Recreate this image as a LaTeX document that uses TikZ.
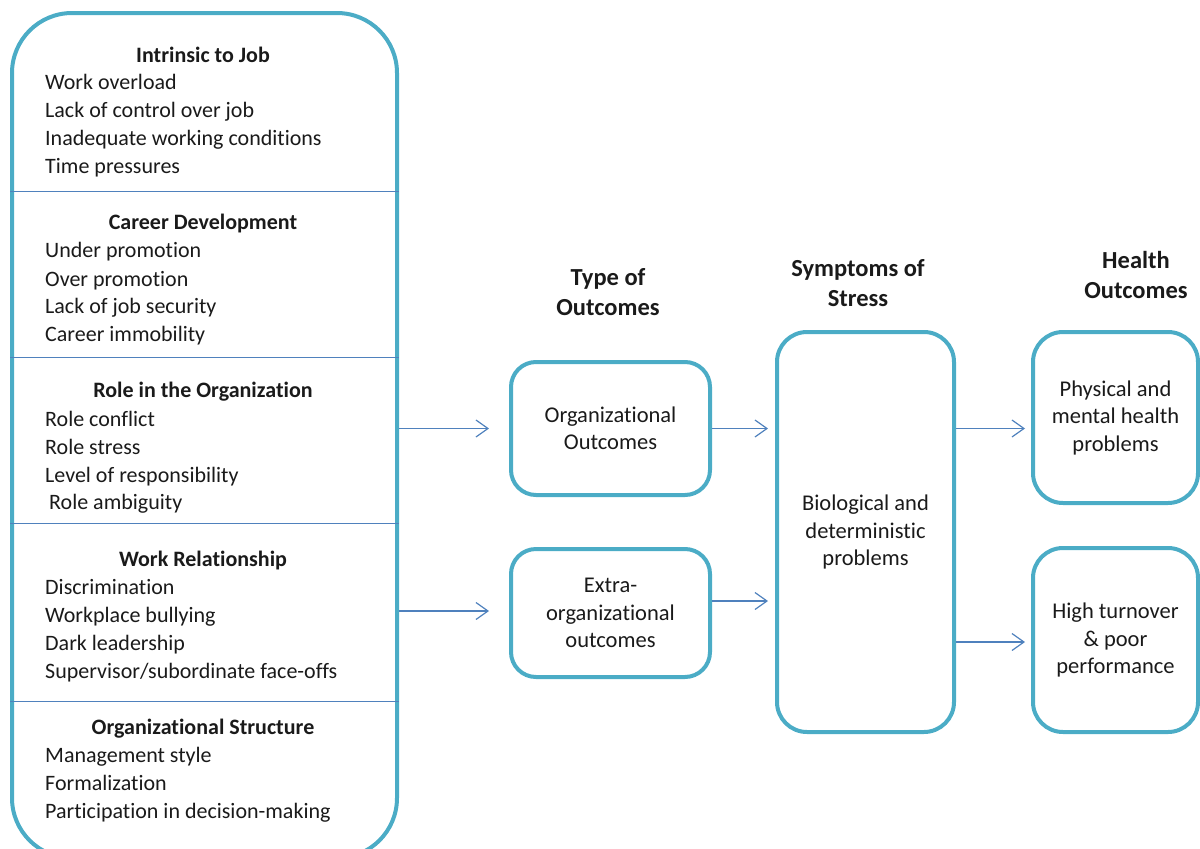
\documentclass[tikz,border=0pt]{standalone}
\usepackage{fontspec}
\setmainfont{Carlito}[Ligatures=NoCommon]
\usetikzlibrary{arrows.meta,calc}
\definecolor{boxline}{HTML}{4BACC6}
\definecolor{arrline}{HTML}{4F81BD}
\definecolor{ink}{HTML}{1A1A1A}
\begin{document}
\begin{tikzpicture}[x=1pt,y=-1pt,
  panel/.style={draw=boxline,line width=4pt,rounded corners=60pt,inner sep=0pt},
  outbox/.style={draw=boxline,line width=4pt,rounded corners=#1,align=center,
    inner sep=0pt,text=ink,font=\fontsize{22.5}{27.5}\selectfont},
  outbox/.default=25pt,
  divider/.style={draw=arrline,line width=1pt},
  head/.style={inner sep=0pt,text height=17pt,text depth=2pt,text=ink,
    font=\fontsize{22}{26}\selectfont\bfseries},
  item/.style={anchor=west,inner sep=0pt,text height=17pt,text depth=3pt,text=ink,
    font=\fontsize{22}{26}\selectfont},
  colhead/.style={inner sep=0pt,align=center,text=ink,
    font=\fontsize{24.5}{30}\selectfont\bfseries},
  flow/.style={draw=arrline,line width=1.2pt,-{Straight Barb[length=12pt,width=17pt,line width=1.2pt]}}
]
\useasboundingbox (0,0) rectangle (1200,849);
\clip (0,0) rectangle (1200,849);

% stressor panel on the left
\node[panel,minimum width=385pt,minimum height=845pt] (causes) at (204.5,435.5) {};
\foreach \y/\n in {191/d1,357/d2,523/d3,701/d4}
  \draw[divider] (causes.west |- 0,\y) coordinate (\n a) -- (causes.east |- 0,\y) coordinate (\n b);

\node[head] (h1) at (203,55) {Intrinsic to Job};
\node[item] (i11) at (45,82) {Work overload};
\node[item] (i12) at (45,110) {Lack of control over job};
\node[item] (i13) at (45,138) {Inadequate working conditions};
\node[item] (i14) at (45,166) {Time pressures};

\node[head] (h2) at (203,222) {Career Development};
\node[item] (i21) at (45,250) {Under promotion};
\node[item] (i22) at (45,279) {Over promotion};
\node[item] (i23) at (45,306) {Lack of job security};
\node[item] (i24) at (45,334) {Career immobility};

\node[head] (h3) at (203,390) {Role in the Organization};
\node[item] (i31) at (45,419) {Role conflict};
\node[item] (i32) at (45,447) {Role stress};
\node[item] (i33) at (45,475) {Level of responsibility};
\node[item] (i34) at (49,502) {Role ambiguity};

\node[head] (h4) at (203,559) {Work Relationship};
\node[item] (i41) at (45,587) {Discrimination};
\node[item] (i42) at (45,615) {Workplace bullying};
\node[item] (i43) at (45,643) {Dark leadership};
\node[item] (i44) at (45,671) {Supervisor/subordinate face-offs};

\node[head] (h5) at (203,727) {Organizational Structure};
\node[item] (i51) at (45,755) {Management style};
\node[item] (i52) at (45,783) {Formalization};
\node[item] (i53) at (45,811) {Participation in decision-making};

% column headings
\node[colhead] (t1) at (608,292) {Type of\\Outcomes};
\node[colhead] (t2) at (858,283) {Symptoms of\\Stress};
\node[colhead] (t3) at (1136,275) {Health\\Outcomes};

% outcome boxes
\node[outbox,minimum width=199pt,minimum height=133pt] (org) at (610.5,428.5) {Organizational\\Outcomes};
\node[outbox,minimum width=199pt,minimum height=128pt] (extra) at (610.5,613) {Extra-\\organizational\\outcomes};
\node[outbox=30pt,minimum width=177pt,minimum height=400pt] (sym) at (865.5,532) {Biological and\\deterministic\\problems};
\node[outbox=30pt,minimum width=165pt,minimum height=171pt] (phys) at (1115.5,417.5) {Physical and\\mental health\\problems};
\node[outbox=30pt,minimum width=165pt,minimum height=184pt] (high) at (1115.5,640) {High turnover\\\& poor\\performance};

% connectors
\draw[flow] (causes.east |- org) -- ($(org.west)+(-20,0)$);
\draw[flow] (causes.east |- 0,611) -- ($(extra.west)+(-20,-2)$);
\draw[flow] (org.east) -- ($(org.east -| sym.west)+(-7,0)$);
\draw[flow] ($(extra.east)+(0,-12)$) -- ($(extra.east -| sym.west)+(-7,-12)$);
\draw[flow] (sym.east |- org) -- ($(phys.west |- org)+(-6,0)$);
\draw[flow] ($(sym.east |- high)+(0,2)$) -- ($(high.west)+(-6,2)$);
\end{tikzpicture}
\end{document}
